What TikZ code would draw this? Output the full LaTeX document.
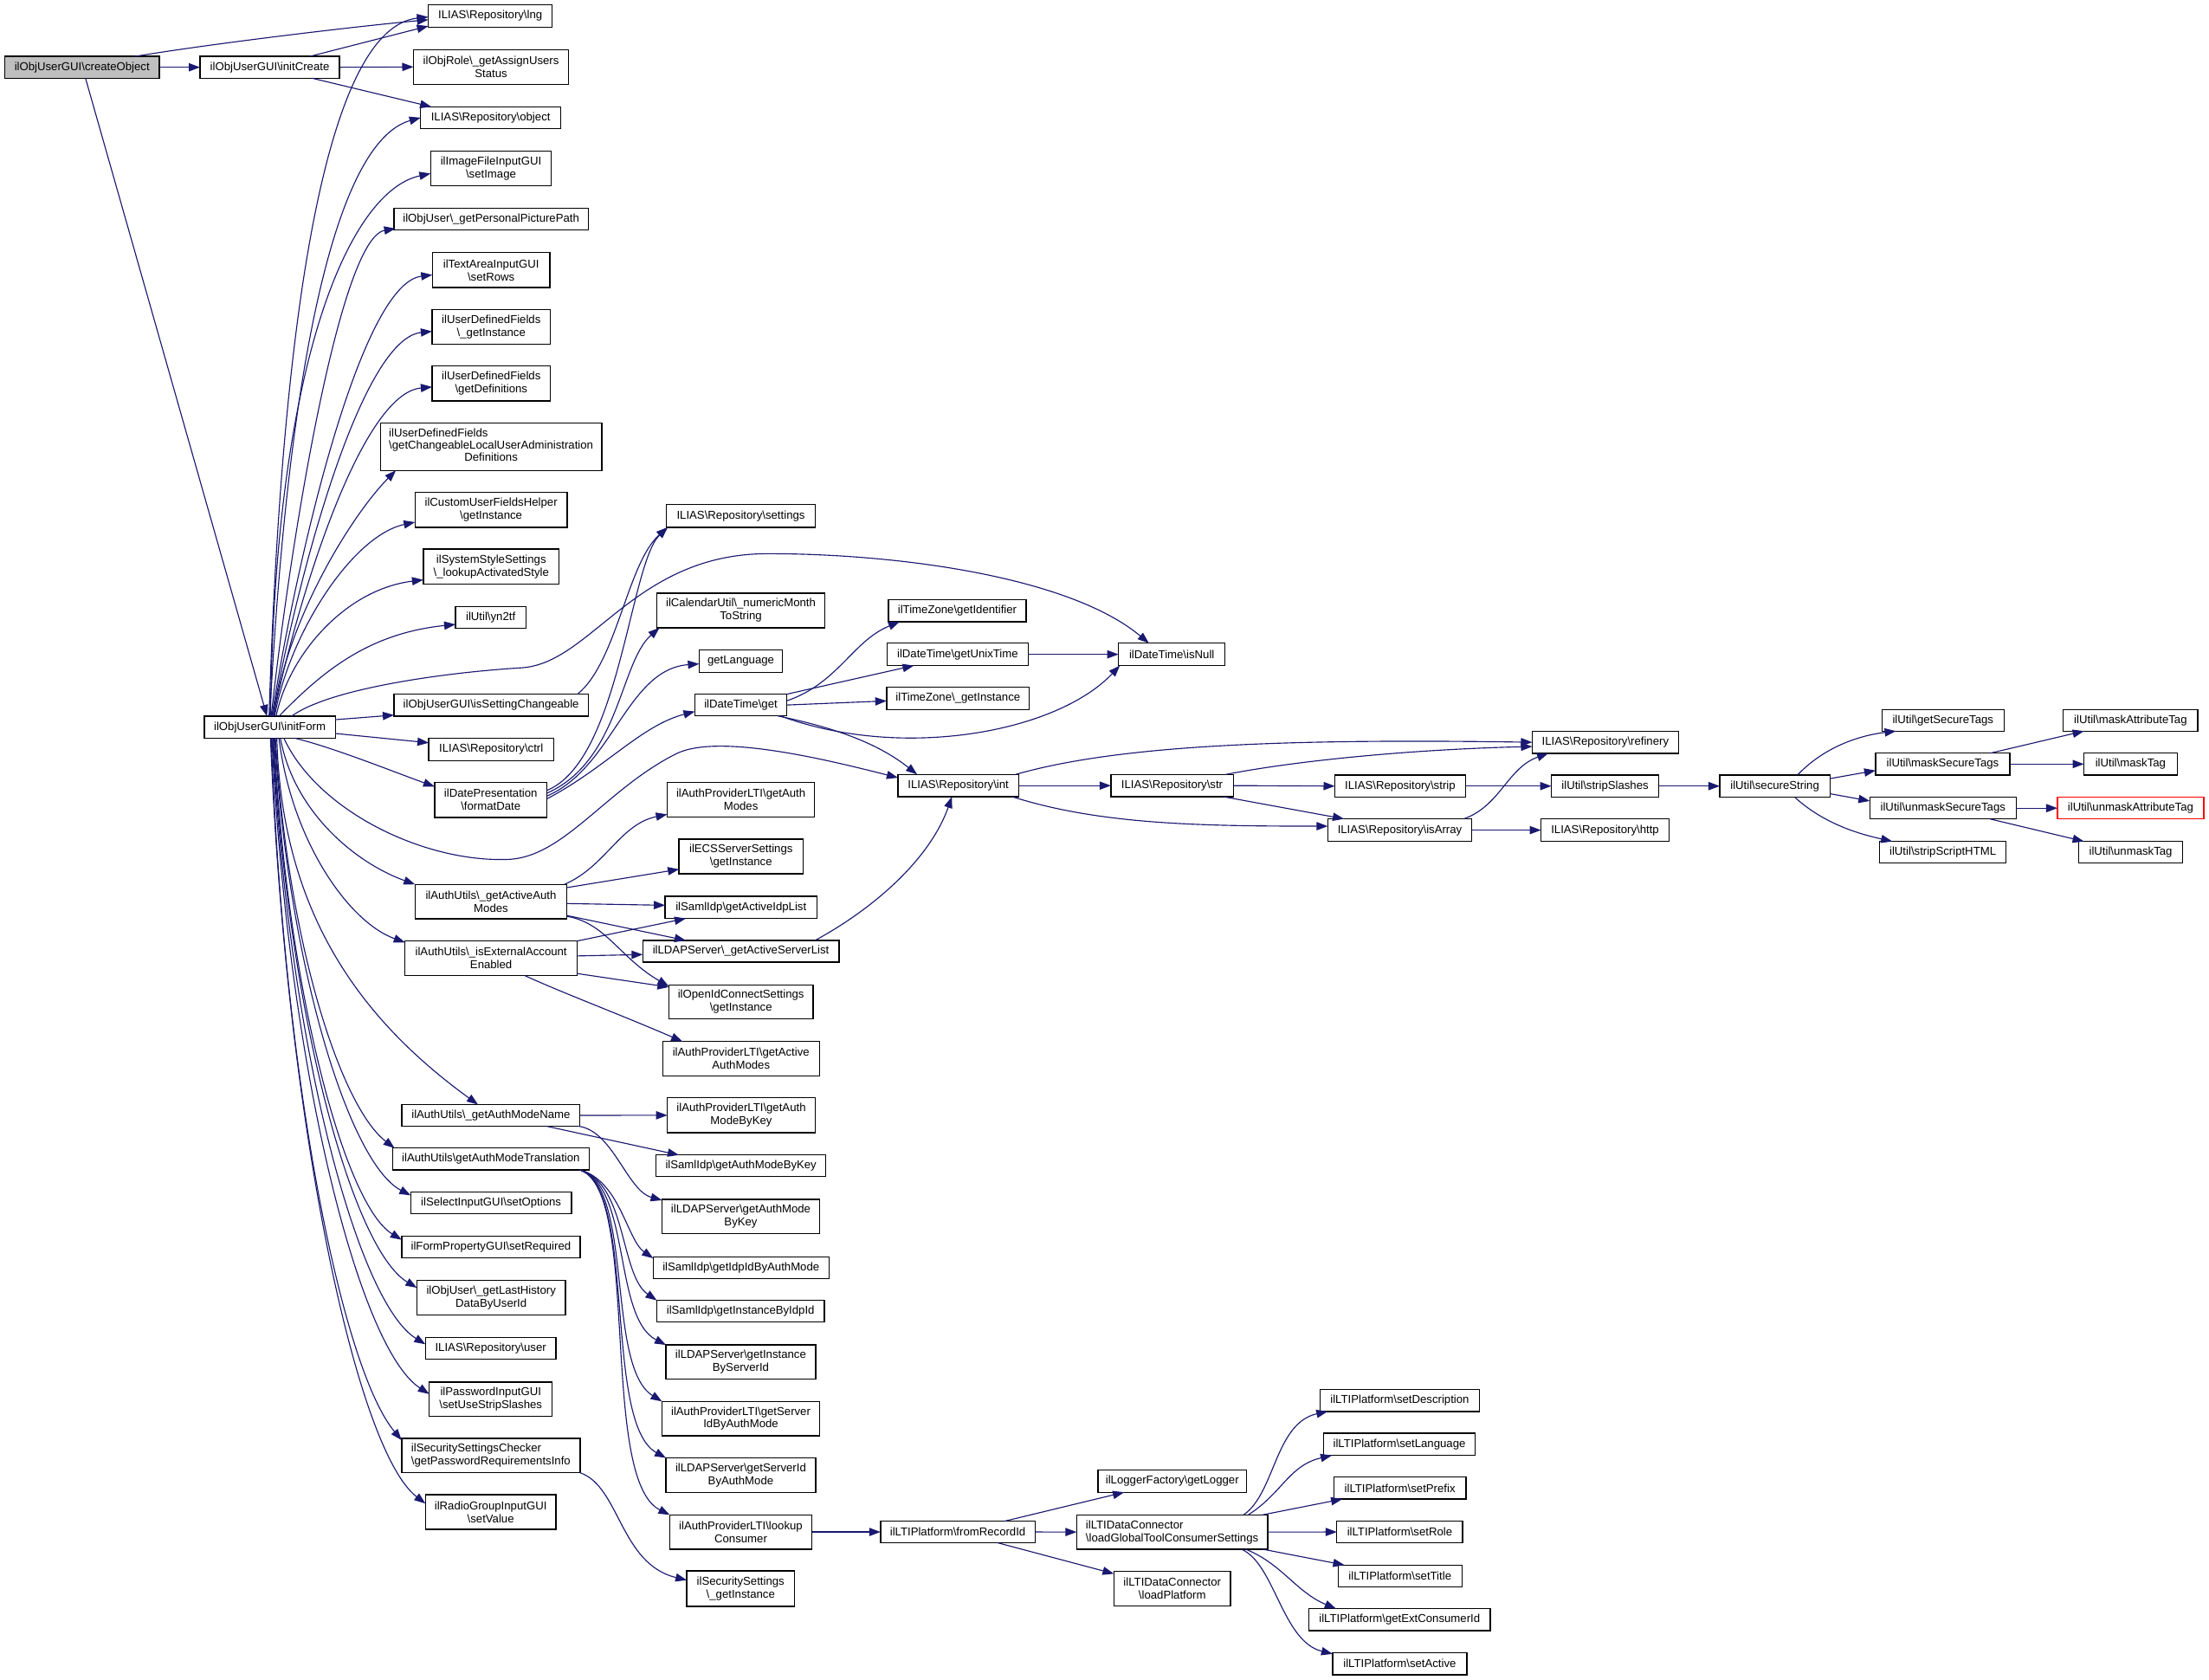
\documentclass[tikz,border=0pt]{standalone}
\usepackage{fontspec}
\setmainfont{Liberation Sans}
\usetikzlibrary{arrows.meta,calc}
\definecolor{edgec}{RGB}{25,25,112}
\definecolor{grey75}{RGB}{191,191,191}
\newcommand{\bsl}{\textbackslash}
\newcommand\mybox[7][]{\node[bx,minimum width={(#5-#3)*1pt},minimum height={(#6-#4)*1pt},#1] (#2) at ({(#3+#5)/2},{(#4+#6)/2}) {#7};}
\newcommand\mycurve[6]{\draw[e] let \p1=(#1), \p2=(#2) in (\p1) .. controls ({\x1+#3*(\x2-\x1)},{\y1+#4*(\y2-\y1)}) and ({\x1+#5*(\x2-\x1)},{\y1+#6*(\y2-\y1)}) .. (\p2);}
\begin{document}
\begin{tikzpicture}[x=1pt,y=-1pt,
 bx/.style={draw=black,line width=0.85pt,fill=white,inner sep=0pt,outer sep=0pt,align=center,font=\fontsize{8.1}{9.2}\selectfont},
 e/.style={draw=edgec,line width=0.7pt,-{Triangle[length=8pt,width=5.8pt]}}]
\fill[white] (0,0) rectangle (1568,1192);
\useasboundingbox (0,0) rectangle (1568,1192);
% column 1-2
\mybox[fill=grey75]{cO}{3.5}{40}{113}{55.5}{ilObjUserGUI\bsl createObject}
\mybox{iC}{142}{40}{241}{55.5}{ilObjUserGUI\bsl initCreate}
\mybox{iF}{145}{508.3}{238}{523.9}{ilObjUserGUI\bsl initForm}
% column 3
\mybox{lng}{304}{3.5}{392}{19.3}{ILIAS\bsl Repository\bsl lng}
\mybox{aus}{293.5}{35.2}{403.6}{59.8}{ilObjRole\bsl\_getAssignUsers\\Status}
\mybox{obj}{298.6}{75.8}{398}{91.2}{ILIAS\bsl Repository\bsl object}
\mybox{setImage}{305.7}{107.4}{391.3}{131.7}{ilImageFileInputGUI\\\bsl setImage}
\mybox{ppp}{279.7}{147.7}{417.5}{163.2}{ilObjUser\bsl\_getPersonalPicturePath}
\mybox{setRows}{306.9}{179.3}{390.3}{204.1}{ilTextAreaInputGUI\\\bsl setRows}
\mybox{udfGI}{306.7}{219.7}{390.7}{244.2}{ilUserDefinedFields\\\bsl\_getInstance}
\mybox{udfGD}{306.7}{259.7}{390.7}{284.6}{ilUserDefinedFields\\\bsl getDefinitions}
\mybox{udfCh}{270}{300.1}{427.2}{333.9}{\def\arraystretch{0.94}\begin{tabular}{@{}l@{}}ilUserDefinedFields\\\bsl getChangeableLocalUserAdministration\\\multicolumn{1}{@{}c@{}}{Definitions}\end{tabular}}
\mybox{cufh}{294.6}{349.5}{402.6}{374.3}{ilCustomUserFieldsHelper\\\bsl getInstance}
\mybox{sss}{300.5}{389.8}{396.9}{414.5}{ilSystemStyleSettings\\\bsl\_lookupActivatedStyle}
\mybox{yn2tf}{323.3}{430.4}{373.3}{446}{ilUtil\bsl yn2tf}
\mybox{isc}{279.7}{492.8}{417.5}{508.3}{ilObjUserGUI\bsl isSettingChangeable}
\mybox{ctrl}{304.3}{524}{393}{540}{ILIAS\bsl Repository\bsl ctrl}
\mybox{fd}{308.5}{555.2}{388.2}{580.2}{ilDatePresentation\\\bsl formatDate}
\mybox{gaam}{294.6}{627.7}{402.4}{652.1}{ilAuthUtils\bsl\_getActiveAuth\\Modes}
\mybox{ieae}{287.5}{667.9}{409.7}{692.5}{ilAuthUtils\bsl\_isExternalAccount\\Enabled}
\mybox{gamn}{285.3}{784}{411.6}{799.3}{ilAuthUtils\bsl\_getAuthModeName}
\mybox{gamt}{278.6}{814.9}{418.3}{830.4}{ilAuthUtils\bsl getAuthModeTranslation}
\mybox{setOptions}{291.5}{846}{405.7}{861.3}{ilSelectInputGUI\bsl setOptions}
\mybox{setRequired}{285.1}{877.3}{411.8}{892.6}{ilFormPropertyGUI\bsl setRequired}
\mybox{glh}{295.9}{908.7}{401.4}{933.3}{ilObjUser\bsl\_getLastHistory\\DataByUserId}
\mybox{user}{302}{949.3}{394.6}{964.6}{ILIAS\bsl Repository\bsl user}
\mybox{suss}{304.7}{980.9}{392}{1005.2}{ilPasswordInputGUI\\\bsl setUseStripSlashes}
\mybox[align=left]{gpri}{285.1}{1020.9}{411.8}{1045.3}{ilSecuritySettingsChecker\\\bsl getPasswordRequirementsInfo}
\mybox{setValue}{302}{1061}{394.6}{1085.4}{ilRadioGroupInputGUI\\\bsl setValue}
% column 4
\mybox{settings}{472.9}{358.1}{578.8}{374.3}{ILIAS\bsl Repository\bsl settings}
\mybox{cal}{466.1}{421}{585.6}{445.6}{ilCalendarUtil\bsl\_numericMonth\\ToString}
\mybox{getLang}{496.3}{461.4}{555.4}{477.4}{getLanguage}
\mybox{dtget}{493.2}{492.7}{558.5}{508.1}{ilDateTime\bsl get}
\mybox{ltiGAM}{473.6}{555.2}{578.2}{580}{ilAuthProviderLTI\bsl getAuth\\Modes}
\mybox{ecs}{482}{595.6}{570}{620.2}{ilECSServerSettings\\\bsl getInstance}
\mybox{idpList}{472.1}{636.2}{579.9}{651.9}{ilSamlIdp\bsl getActiveIdpList}
\mybox{ldapASL}{456.3}{667.5}{595.5}{682.9}{ilLDAPServer\bsl\_getActiveServerList}
\mybox{oidc}{474.7}{699}{577.2}{723.2}{ilOpenIdConnectSettings\\\bsl getInstance}
\mybox{ltiGAAM}{470.4}{739.2}{581.6}{763.6}{ilAuthProviderLTI\bsl getActive\\AuthModes}
\mybox{ltiGAMBK}{473.7}{779.2}{578.6}{804}{ilAuthProviderLTI\bsl getAuth\\ModeByKey}
\mybox{samlGAMBK}{465.7}{819.8}{586.2}{835}{ilSamlIdp\bsl getAuthModeByKey}
\mybox{ldapGAMBK}{469.9}{851.4}{581.8}{875.7}{ilLDAPServer\bsl getAuthMode\\ByKey}
\mybox{samlGIIBAM}{463.6}{892.1}{588.4}{907.5}{ilSamlIdp\bsl getIdpIdByAuthMode}
\mybox{samlGIBII}{466.2}{923}{585.1}{938.4}{ilSamlIdp\bsl getInstanceByIdpId}
\mybox{ldapGIBSI}{472.7}{954.6}{578.9}{978.9}{ilLDAPServer\bsl getInstance\\ByServerId}
\mybox{ltiGSIBAM}{469.9}{994.7}{581.8}{1019}{ilAuthProviderLTI\bsl getServer\\IdByAuthMode}
\mybox{ldapGSIBAM}{472.7}{1034.8}{578.9}{1059.4}{ilLDAPServer\bsl getServerId\\ByAuthMode}
\mybox{ltiLC}{475.4}{1075.2}{576.3}{1099.5}{ilAuthProviderLTI\bsl lookup\\Consumer}
\mybox{secS}{487.5}{1115}{563.9}{1140.1}{ilSecuritySettings\\\bsl\_getInstance}
% column 5+
\mybox{tzGI}{630.6}{425.5}{728.4}{441.3}{ilTimeZone\bsl getIdentifier}
\mybox{dtGUT}{629.7}{456.5}{729.8}{472.4}{ilDateTime\bsl getUnixTime}
\mybox{tzGInst}{629.3}{487.6}{730.7}{503.6}{ilTimeZone\bsl\_getInstance}
\mybox{isNull}{793.9}{456.5}{869.6}{472.4}{ilDateTime\bsl isNull}
\mybox{int}{637.4}{549.7}{723}{565.5}{ILIAS\bsl Repository\bsl int}
\mybox{str}{788.5}{549.7}{875.4}{565.5}{ILIAS\bsl Repository\bsl str}
\mybox{refinery}{1087.6}{519}{1191.4}{534.7}{ILIAS\bsl Repository\bsl refinery}
\mybox{strip}{947.5}{550}{1040.2}{565.9}{ILIAS\bsl Repository\bsl strip}
\mybox{isArray}{942.5}{581.2}{1044.7}{597.2}{ILIAS\bsl Repository\bsl isArray}
\mybox{stripSl}{1101.2}{550}{1177.4}{565.9}{ilUtil\bsl stripSlashes}
\mybox{http}{1093.8}{581.2}{1184.8}{597.2}{ILIAS\bsl Repository\bsl http}
\mybox{secStr}{1220.7}{550}{1298.9}{565.9}{ilUtil\bsl secureString}
\mybox{getST}{1335.8}{503.6}{1422.5}{518.9}{ilUtil\bsl getSecureTags}
\mybox{maskST}{1331.3}{534.6}{1426.6}{550}{ilUtil\bsl maskSecureTags}
\mybox{unmaskST}{1327.2}{565.9}{1431.1}{581.3}{ilUtil\bsl unmaskSecureTags}
\mybox{stripSH}{1334.2}{597.2}{1423.9}{612.6}{ilUtil\bsl stripScriptHTML}
\mybox{maskAT}{1464.5}{503.6}{1560.1}{518.9}{ilUtil\bsl maskAttributeTag}
\mybox{maskTag}{1479.2}{534.6}{1545.4}{550}{ilUtil\bsl maskTag}
\mybox[draw=red]{unmaskAT}{1460.4}{565.9}{1564.2}{581.3}{ilUtil\bsl unmaskAttributeTag}
\mybox{unmaskTag}{1475.5}{597.2}{1549.3}{612.6}{ilUtil\bsl unmaskTag}
% bottom
\mybox{fromRec}{625}{1079.7}{734.7}{1095}{ilLTIPlatform\bsl fromRecordId}
\mybox{getLogger}{779.4}{1043.4}{884.8}{1059.2}{ilLoggerFactory\bsl getLogger}
\mybox[align=left]{loadGlobal}{764.2}{1075.2}{899.8}{1099.6}{ilLTIDataConnector\\\bsl loadGlobalToolConsumerSettings}
\mybox{loadPlat}{790.7}{1115.1}{873.5}{1139.7}{ilLTIDataConnector\\\bsl loadPlatform}
\mybox{setDesc}{936.9}{986.1}{1050.2}{1001.8}{ilLTIPlatform\bsl setDescription}
\mybox{setLang}{939.4}{1017.2}{1047.2}{1033}{ilLTIPlatform\bsl setLanguage}
\mybox{setPrefix}{946.8}{1048.4}{1040.6}{1064}{ilLTIPlatform\bsl setPrefix}
\mybox{setRole}{948.9}{1079.7}{1038.2}{1095}{ilLTIPlatform\bsl setRole}
\mybox{setTitle}{949.8}{1110.8}{1037.7}{1126.2}{ilLTIPlatform\bsl setTitle}
\mybox{getExt}{929}{1141.8}{1057.9}{1157.5}{ilLTIPlatform\bsl getExtConsumerId}
\mybox{setActive}{945.9}{1172.9}{1041.2}{1188.7}{ilLTIPlatform\bsl setActive}
% ---------------- edges
\draw[e] (cO.east) -- (iC.west);
\draw[e] ([xshift=37.75]cO.north) .. controls (150,31) and (250,19) .. ([yshift=-2.6]lng.west);
\draw[e] ([xshift=2.45]cO.south) -- ([xshift=-2]iF.north);
\draw[e] ([xshift=28.5]iC.north) -- ([yshift=-7.1]lng.west);
\draw[e] (iC.east) -- (aus.west);
\draw[e] ([xshift=30]iC.south) -- ([xshift=7.6]obj.north west);
% initForm upward fan
\draw[e] ([xshift=-0.5]iF.north) .. controls (200,220) and (232,20) .. ([yshift=-0.6]lng.west);
\draw[e] (iF.north) .. controls (205,250) and (240,100) .. (obj.west);
\draw[e] ([xshift=0.5]iF.north) .. controls (195,250) and (250,135) .. ([yshift=-3.6]setImage.west);
\mycurve{[xshift=1]iF.north}{[xshift=1,yshift=1]ppp.south west}{0.15}{0.35}{0.55}{0.98}
\mycurve{[xshift=1.5]iF.north}{[yshift=-3.4]setRows.west}{0.15}{0.35}{0.55}{0.98}
\mycurve{[xshift=2]iF.north}{[yshift=-3.2]udfGI.west}{0.15}{0.35}{0.55}{0.98}
\mycurve{[xshift=2.5]iF.north}{[yshift=-2.5]udfGD.west}{0.15}{0.35}{0.55}{0.98}
\mycurve{[xshift=3]iF.north}{[xshift=11]udfCh.south west}{0.1}{0.39}{0.64}{0.82}
\mycurve{[xshift=3.5]iF.north}{[yshift=-8.7]cufh.west}{0.1}{0.42}{0.55}{0.93}
\mycurve{[xshift=4.5]iF.north}{[yshift=-9.4]sss.west}{0.086}{0.45}{0.47}{0.93}
\mycurve{[xshift=6.5]iF.north}{[yshift=-5]yn2tf.west}{0.23}{0.45}{0.49}{0.9}
\draw[e] ([xshift=15.5]iF.north) .. controls (235,488) and (320,477) .. (370,474) .. controls (420,471) and (450,393) .. (545,393) .. controls (640,393) and (760,410) .. ([xshift=-16.25]isNull.north);
\draw[e] ([yshift=5.3]iF.east) -- ([yshift=-7]isc.west);
\draw[e] ([yshift=-4.5]iF.east) -- ([yshift=4.8]ctrl.west);
\draw[e] ([xshift=17.5]iF.south) .. controls (235,530) and (280,548) .. ([yshift=9.4]fd.west);
\draw[e] ([xshift=10]iF.south) .. controls (225,575) and (300,612) .. (360,610) .. controls (400,609) and (430,560) .. (480,535) .. controls (510,520) and (590,540) .. ([yshift=5.6]int.west);
% initForm downward fan
\mycurve{[xshift=7.5]iF.south}{gaam.north west}{0.1}{0.5}{0.55}{0.85}
\mycurve{[xshift=6.5]iF.south}{[yshift=-1]ieae.north west}{0.1}{0.5}{0.55}{0.9}
\draw[e] ([xshift=5]iF.south) .. controls (200,650) and (258,725) .. ([xshift=-9.15]gamn.north);
\mycurve{[xshift=4]iF.south}{[xshift=1.5]gamt.north west}{0.1}{0.5}{0.55}{0.9}
\mycurve{[xshift=3.5]iF.south}{[yshift=5.2]setOptions.west}{0.1}{0.5}{0.55}{0.93}
\mycurve{[xshift=3]iF.south}{[yshift=5]setRequired.west}{0.1}{0.5}{0.55}{0.93}
\mycurve{[xshift=2.5]iF.south}{[yshift=7]glh.west}{0.1}{0.5}{0.55}{0.93}
\mycurve{[xshift=2]iF.south}{[yshift=2.8]user.west}{0.1}{0.5}{0.55}{0.93}
\mycurve{[xshift=1.5]iF.south}{[yshift=3.6]suss.west}{0.1}{0.5}{0.55}{0.93}
\mycurve{[xshift=1]iF.south}{[yshift=-1.3]gpri.north west}{0.1}{0.5}{0.55}{0.9}
\mycurve{[xshift=0.5]iF.south}{[yshift=6]setValue.west}{0.1}{0.5}{0.55}{0.93}
% settings, formatDate
\draw[e] ([xshift=-7.7]isc.north east) .. controls (438,470) and (445,400) .. ([xshift=1]settings.south west);
\draw[e] ([yshift=6.7]fd.east) .. controls (440,540) and (447,400) .. ([xshift=1]settings.south west);
\draw[e] ([yshift=4.7]fd.east) .. controls (440,540) and (440,470) .. ([xshift=2]cal.south west);
\draw[e] ([yshift=2.7]fd.east) .. controls (435,545) and (445,475) .. ([yshift=-1.8]getLang.west);
\draw[e] ([yshift=0.7]fd.east) .. controls (430,545) and (455,515) .. ([yshift=-4.6]dtget.west);
% ilDateTime get
\draw[e] ([yshift=3]dtget.east) .. controls (595,485) and (605,455) .. ([xshift=8]tzGI.south west);
\draw[e] (dtget.north east) -- ([xshift=19]dtGUT.south west);
\draw[e] (dtget.east) -- ([yshift=-1.9]tzGInst.west);
\draw[e] ([xshift=28]dtget.south) .. controls (640,540) and (750,520) .. ([xshift=1]isNull.south west);
\draw[e] ([xshift=26]dtget.south) .. controls (585,515) and (620,525) .. ([xshift=13.6]int.north west);
\draw[e] (dtGUT.east) -- (isNull.west);
% refinery chain
\draw[e] (int.east) -- (str.west);
\draw[e] ([xshift=-2.2]int.north east) .. controls (790,530) and (900,524) .. (refinery.west);
\draw[e] ([xshift=-4.5]int.south east) .. controls (780,585) and (850,586.4) .. ([yshift=2.8]isArray.west);
\draw[e] ([xshift=-5.4]str.north east) .. controls (920,540) and (1000,532) .. ([yshift=-3]refinery.west);
\draw[e] (str.east) -- (strip.west);
\draw[e] ([xshift=-7]str.south east) -- ([xshift=11.5]isArray.north west);
\draw[e] (strip.east) -- (stripSl.west);
\draw[e] ([xshift=-5.7]isArray.north east) .. controls (1065,572) and (1070,545) .. ([xshift=11.4]refinery.south west);
\draw[e] (isArray.east) -- (http.west);
\draw[e] (stripSl.east) -- (secStr.west);
\draw[e] ([xshift=16.2]secStr.north) .. controls (1295,530) and (1320,522) .. ([xshift=10]getST.south west);
\draw[e] ([yshift=5.3]secStr.east) -- ([yshift=-4.6]maskST.west);
\draw[e] ([yshift=-5.4]secStr.east) -- ([yshift=5.1]unmaskST.west);
\draw[e] ([xshift=14.2]secStr.south) .. controls (1295,585) and (1320,592) .. ([xshift=9]stripSH.north west);
\draw[e] ([xshift=33.65]maskST.north) -- ([xshift=14.7]maskAT.south west);
\draw[e] (maskST.east) -- (maskTag.west);
\draw[e] (unmaskST.east) -- (unmaskAT.west);
\draw[e] ([xshift=33.45]unmaskST.south) -- ([xshift=3.7]unmaskTag.north west);
% auth
\draw[e] ([xshift=-1.7]gaam.north east) .. controls (430,615) and (440,585) .. ([yshift=2]ltiGAM.south west);
\draw[e] ([yshift=9.9]gaam.east) -- ([yshift=-9.1]ecs.west);
\draw[e] ([yshift=-1.4]gaam.east) -- ([yshift=1.5]idpList.west);
\draw[e] ([yshift=-9.9]gaam.east) -- ([xshift=30.5]ldapASL.north west);
\draw[e] ([yshift=-10.5]gaam.east) .. controls (430,655) and (440,680) .. ([yshift=-1]oidc.north west);
\draw[e] (ieae.north east) -- ([xshift=14.7]idpList.south west);
\draw[e] ([yshift=1.7]ieae.east) -- ([yshift=-2.3]ldapASL.west);
\draw[e] ([yshift=-10.8]ieae.east) -- ([yshift=-1.6]oidc.north west);
\draw[e] ([xshift=24]ieae.south) .. controls (400,705) and (440,720) .. ([xshift=14]ltiGAAM.north west);
\draw[e] ([xshift=-17]ldapASL.north east) .. controls (620,645) and (660,610) .. ([xshift=-4.5]int.south);
\draw[e] (gamn.east) -- (ltiGAMBK.west);
\draw[e] ([xshift=39.15]gamn.south) -- ([xshift=16.2]samlGAMBK.north west);
\draw[e] ([xshift=-1.5]gamn.south east) .. controls (435,802) and (445,845) .. ([yshift=-0.5]ldapGAMBK.north west);
\draw[e] ([xshift=-6.6]gamt.south east) .. controls (440,838) and (445,880) .. ([yshift=-1]samlGIIBAM.north west);
\draw[e] ([xshift=-6.6]gamt.south east) .. controls (445,840) and (440,905) .. (samlGIBII.north west);
\draw[e] ([xshift=-6.6]gamt.south east) .. controls (448,842) and (435,935) .. (ldapGIBSI.north west);
\draw[e] ([xshift=-6.6]gamt.south east) .. controls (450,843) and (430,970) .. (ltiGSIBAM.north west);
\draw[e] ([xshift=-6.6]gamt.south east) .. controls (452,844) and (428,1010) .. (ldapGSIBAM.north west);
\draw[e] ([xshift=-6.6]gamt.south east) .. controls (455,845) and (425,1050) .. (ltiLC.north west);
\draw[e] ([xshift=-0.1]gpri.south east) .. controls (440,1055) and (440,1110) .. ([yshift=6]secS.west);
% LTI
\draw[e] (ltiLC.east) -- (fromRec.west);
\draw[e] ([xshift=33.15]fromRec.north) -- ([xshift=18.5]getLogger.south west);
\draw[e] (fromRec.east) -- (loadGlobal.west);
\draw[e] ([xshift=28.15]fromRec.south) -- ([yshift=10.4]loadPlat.west);
\draw[e] ([xshift=50.7]loadGlobal.north) .. controls (905,1060) and (905,1010) .. ([xshift=5.5]setDesc.south west);
\draw[e] ([xshift=54]loadGlobal.north) .. controls (910,1060) and (915,1040) .. ([xshift=6]setLang.south west);
\draw[e] ([xshift=64.2]loadGlobal.north) -- ([xshift=6]setPrefix.south west);
\draw[e] (loadGlobal.east) -- (setRole.west);
\draw[e] ([xshift=64.2]loadGlobal.south) -- ([xshift=4.5]setTitle.north west);
\draw[e] ([xshift=52.2]loadGlobal.south) .. controls (910,1110) and (920,1130) .. ([xshift=19.3]getExt.north west);
\draw[e] ([xshift=49.2]loadGlobal.south) .. controls (905,1110) and (910,1165) .. ([yshift=-1]setActive.north west);
\end{tikzpicture}
\end{document}
